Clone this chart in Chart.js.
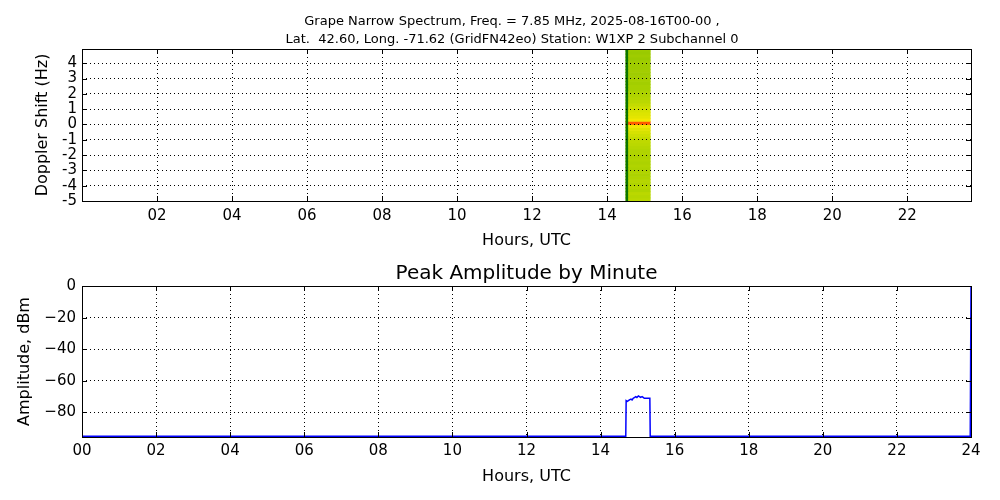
<!DOCTYPE html>
<html>
<head>
<meta charset="utf-8">
<script src="https://cdn.jsdelivr.net/npm/chart.js@4/dist/chart.umd.min.js"></script>
<style>
  html, body { margin: 0; padding: 0; background: #fff; }
  .panel { position: absolute; left: 0; width: 1000px; height: 250px; }
</style>
</head>
<body>
<div class="panel" style="top:0"><canvas id="spectrum" width="1000" height="250"></canvas></div>
<div class="panel" style="top:250px"><canvas id="amplitude" width="1000" height="250"></canvas></div>
<script>
// --- spectrogram (top) ---
const dopplerBins = [-4.9, -4.7, -4.5, -4.3, -4.1, -3.9, -3.7, -3.5, -3.3, -3.1,
  -2.9, -2.7, -2.5, -2.3, -2.1, -1.9, -1.7, -1.5, -1.3, -1.1,
  -0.9, -0.7, -0.5, -0.3, -0.1, 0.1, 0.3, 0.5, 0.7, 0.9,
  1.1, 1.3, 1.5, 1.7, 1.9, 2.1, 2.3, 2.5, 2.7, 2.9,
  3.1, 3.3, 3.5, 3.7, 3.9, 4.1, 4.3, 4.5, 4.7, 4.9];
// relative power (dB) of each doppler bin during the recorded window
const binPower = [-18, -18.5, -18, -19, -18.5, -19, -18.5, -19, -19.5, -19,
  -19.5, -19, -19.5, -19, -19.5, -19, -19, -18.5, -18, -17.5,
  -17, -16, -15, -13.5, -11, -3, -11, -13, -14, -15,
  -16, -17, -18, -18.5, -19, -19.5, -20, -20, -20.5, -20,
  -20.5, -21, -20.5, -21, -21, -21, -21.5, -21, -21.5, -21];
const recordStart = 14.50;   // hours UTC
const recordEdge = 14.55;
const recordEnd = 15.15;
const spectrumHourTicks = [2, 4, 6, 8, 10, 12, 14, 16, 18, 20, 22];
const dopplerTicks = [-5, -4, -3, -2, -1, 0, 1, 2, 3, 4];

// --- peak amplitude (bottom) ---
const minuteHours = [0, 14.68, 14.69, 14.72, 14.75, 14.78, 14.82, 14.85, 14.88, 14.92, 14.95,
  14.98, 15.02, 15.05, 15.08, 15.12, 15.15, 15.18, 15.22, 15.25, 15.30, 15.33, 15.34, 23.98, 24.0];
const peakDbm = [-95, -95, -72.5, -73, -72.5, -72, -71.5, -72, -71, -70.5, -70,
  -70.5, -69.5, -70, -70.5, -70, -70.5, -71, -71, -71, -71, -71, -95, -95, 0];
const amplitudeHourTicks = [0, 2, 4, 6, 8, 10, 12, 14, 16, 18, 20, 22, 24];
const amplitudeTicks = [-80, -60, -40, -20, 0];

Chart.defaults.font.family = 'DejaVu Sans';
Chart.defaults.color = '#000';

const colorStops = [
  [-22, [150, 200, 0]],
  [-19, [176, 212, 0]],
  [-15, [214, 226, 0]],
  [-11, [242, 232, 0]],
  [-6, [248, 170, 0]],
  [-3, [255, 90, 0]]
];
function powerColor(p) {
  if (p <= colorStops[0][0]) return 'rgb(' + colorStops[0][1].join(',') + ')';
  for (let i = 1; i < colorStops.length; i++) {
    const [v1, c1] = colorStops[i];
    const [v0, c0] = colorStops[i - 1];
    if (p <= v1) {
      const t = (p - v0) / (v1 - v0);
      const c = c0.map((a, k) => Math.round(a + (c1[k] - a) * t));
      return 'rgb(' + c.join(',') + ')';
    }
  }
  return 'rgb(' + colorStops[colorStops.length - 1][1].join(',') + ')';
}

// box around the plot area with inward ticks, matplotlib style
const frame = {
  id: 'frame',
  afterDraw(chart) {
    const { ctx, chartArea: a, scales } = chart;
    ctx.save();
    ctx.strokeStyle = '#000';
    ctx.lineWidth = 1;
    ctx.beginPath();
    scales.x.ticks.forEach(t => {
      const px = Math.round(scales.x.getPixelForValue(t.value)) + 0.5;
      ctx.moveTo(px, a.bottom); ctx.lineTo(px, a.bottom - 5);
      ctx.moveTo(px, a.top); ctx.lineTo(px, a.top + 5);
    });
    scales.y.ticks.forEach(t => {
      const py = Math.round(scales.y.getPixelForValue(t.value)) + 0.5;
      ctx.moveTo(a.left, py); ctx.lineTo(a.left + 5, py);
      ctx.moveTo(a.right, py); ctx.lineTo(a.right - 5, py);
    });
    ctx.stroke();
    ctx.strokeRect(Math.round(a.left) + 0.5, Math.round(a.top) + 0.5,
      Math.round(a.right - a.left), Math.round(a.bottom - a.top));
    ctx.restore();
  }
};

const gridStyle = { color: '#000', lineWidth: 1, drawTicks: false, offset: false, z: 1 };
const borderStyle = { display: false, dash: [1, 3] };

new Chart(document.getElementById('spectrum'), {
  type: 'bar',
  data: {
    datasets: [{
      label: 'edge',
      order: 0,
      data: dopplerBins.map(d => ({ y: d, x: [recordStart, recordEdge] })),
      backgroundColor: '#0a7400',
      barPercentage: 1, categoryPercentage: 1, grouped: false, borderWidth: 0
    }, {
      label: 'spectrum',
      order: 1,
      data: dopplerBins.map(d => ({ y: d, x: [recordStart, recordEnd] })),
      backgroundColor: binPower.map(powerColor),
      barPercentage: 1, categoryPercentage: 1, grouped: false, borderWidth: 0
    }]
  },
  options: {
    responsive: false,
    animation: false,
    indexAxis: 'y',
    // left padding keeps the two-line title centred where matplotlib put it
    layout: { padding: { left: 53, right: 29, top: 0, bottom: 0 } },
    plugins: {
      legend: { display: false },
      tooltip: { enabled: false },
      title: {
        display: true,
        text: ['Grape Narrow Spectrum, Freq. = 7.85 MHz, 2025-08-16T00-00 ,',
               'Lat.  42.60, Long. -71.62 (GridFN42eo) Station: W1XP 2 Subchannel 0'],
        font: { size: 13, weight: 'normal', lineHeight: 18 / 13 },
        padding: { top: 13, bottom: 0 },
        color: '#000'
      }
    },
    scales: {
      x: {
        type: 'linear', min: 0, max: 23.7,
        afterBuildTicks: s => { s.ticks = spectrumHourTicks.map(v => ({ value: v })); },
        afterFit: s => { s.height = 49; },
        ticks: { font: { size: 15 }, padding: 6, maxRotation: 0, autoSkip: false,
          callback: v => String(v).padStart(2, '0') },
        grid: gridStyle, border: borderStyle,
        title: { display: true, text: 'Hours, UTC', font: { size: 16 }, padding: { top: 0, bottom: 0 } }
      },
      y: {
        type: 'linear', min: -5, max: 4.93, offset: false,
        afterBuildTicks: s => { s.ticks = dopplerTicks.map(v => ({ value: v })); },
        afterFit: s => { s.width = 29; },
        ticks: { font: { size: 15 }, padding: 5, autoSkip: false },
        grid: gridStyle, border: borderStyle,
        title: { display: true, text: 'Doppler Shift (Hz)', font: { size: 16 }, padding: { top: -19.6, bottom: 0 } }
      }
    }
  },
  plugins: [frame]
});

new Chart(document.getElementById('amplitude'), {
  type: 'line',
  data: {
    datasets: [{
      label: 'Peak Amplitude',
      data: minuteHours.map((h, i) => ({ x: h, y: peakDbm[i] })),
      borderColor: '#0000ff',
      borderWidth: 1.5,
      pointRadius: 0,
      tension: 0,
      fill: false
    }]
  },
  options: {
    responsive: false,
    animation: false,
    layout: { padding: { left: 0, right: 29, top: 0, bottom: 0 } },
    plugins: {
      legend: { display: false },
      tooltip: { enabled: false },
      title: {
        display: true,
        fullSize: false,
        text: 'Peak Amplitude by Minute',
        font: { size: 20, weight: 'normal', lineHeight: 1.2 },
        padding: { top: 12, bottom: 0 },
        color: '#000'
      }
    },
    scales: {
      x: {
        type: 'linear', min: 0, max: 24,
        afterBuildTicks: s => { s.ticks = amplitudeHourTicks.map(v => ({ value: v })); },
        afterFit: s => { s.height = 63; },
        ticks: { font: { size: 15 }, padding: 5, maxRotation: 0, autoSkip: false,
          callback: v => String(v).padStart(2, '0') },
        grid: { color: '#000', lineWidth: 1, drawTicks: false },
        border: borderStyle,
        title: { display: true, text: 'Hours, UTC', font: { size: 16 }, padding: { top: 0, bottom: 14 } }
      },
      y: {
        type: 'linear', min: -95.5, max: 0,
        afterBuildTicks: s => { s.ticks = amplitudeTicks.map(v => ({ value: v })); },
        afterFit: s => { s.width = 82; },
        ticks: { font: { size: 15 }, padding: 6, autoSkip: false,
          callback: v => String(v).replace('-', '\u2212') },
        grid: { color: '#000', lineWidth: 1, drawTicks: false },
        border: borderStyle,
        title: { display: true, text: 'Amplitude, dBm', font: { size: 16 }, padding: { top: 15, bottom: 0 } }
      }
    }
  },
  plugins: [frame]
});
</script>
</body>
</html>
